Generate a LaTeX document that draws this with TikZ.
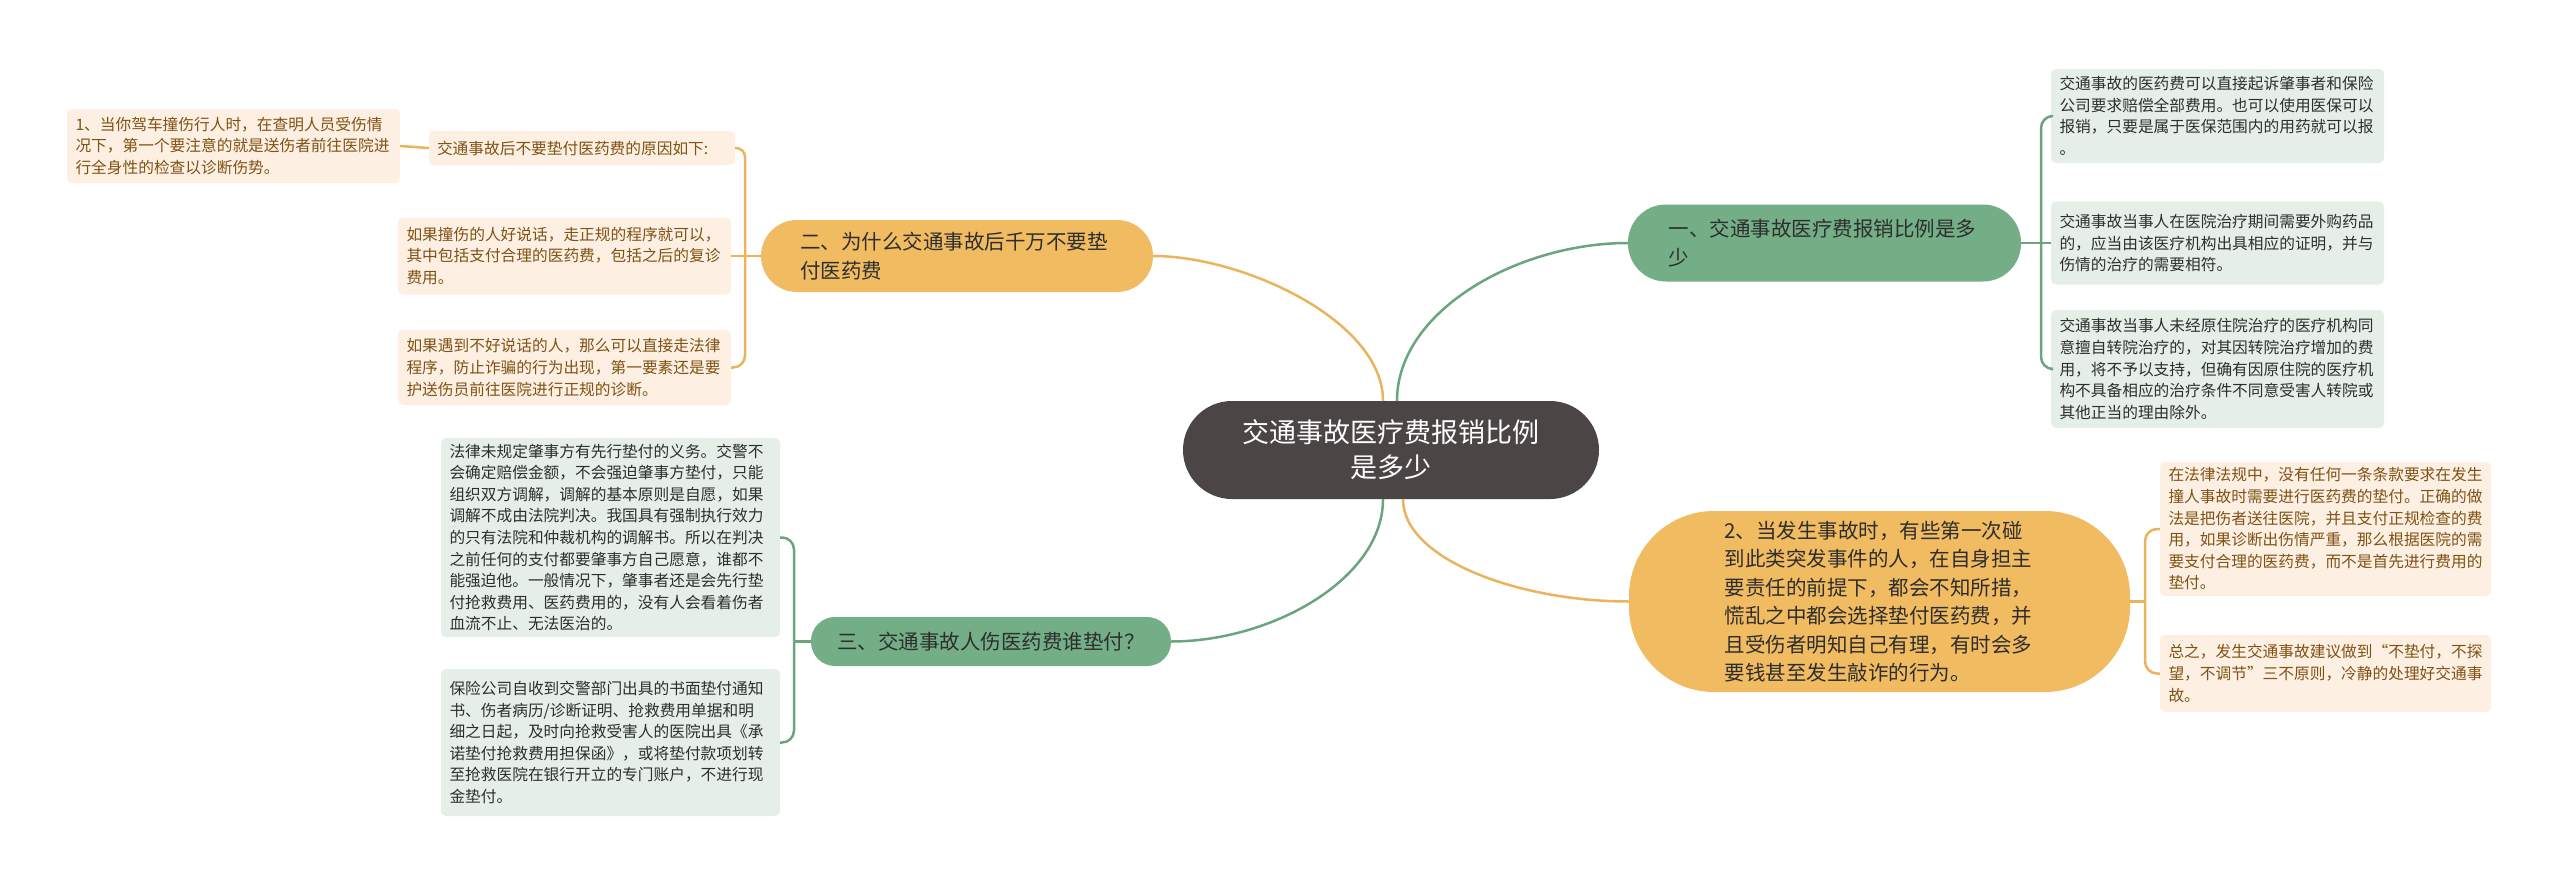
\documentclass[tikz,border=0pt]{standalone}
\usepackage{fontspec}
\setmainfont{Noto Sans CJK SC}
\usetikzlibrary{calc}
\definecolor{rootc}{HTML}{4B4545}
\definecolor{gpillc}{HTML}{73AE87}
\definecolor{glinec}{HTML}{6BA57E}
\definecolor{gboxc}{HTML}{E5EFE7}
\definecolor{opillc}{HTML}{F1BB62}
\definecolor{olinec}{HTML}{EAB45E}
\definecolor{oboxc}{HTML}{FDF0E2}
\definecolor{otext}{HTML}{7F5215}
\definecolor{dtext}{HTML}{2E2E2E}
\tikzset{
  root/.style={fill=rootc, text=white, rounded corners=49pt, minimum width=416pt, minimum height=98pt, align=center, inner sep=0pt, font=\fontsize{27}{35}\selectfont},
  pill/.style={text=dtext, align=left, inner sep=0pt, font=\fontsize{20.5}{28.5}\selectfont},
  gpill/.style={pill, fill=gpillc},
  opill/.style={pill, fill=opillc},
  sbox/.style={rounded corners=5pt, align=left, inner xsep=8.5pt, inner ysep=0pt, font=\fontsize{15.7}{21.6}\selectfont},
  gbox/.style={sbox, fill=gboxc, text=dtext, text width=316pt},
  obox/.style={sbox, fill=oboxc, text=otext, text width=316pt},
  gline/.style={draw=glinec, line width=2.5pt},
  oline/.style={draw=olinec, line width=2.5pt},
}
\begin{document}
\begin{tikzpicture}[x=1pt,y=-1pt]
\useasboundingbox (0,0) rectangle (2560,881);
\fill[white] (0,0) rectangle (2560,881);

% root
\node[root] (root) at (1391,450) {交通事故医疗费报销比例\\是多少};

% branches
\node[gpill, minimum width=393pt, minimum height=77pt, text width=312pt, rounded corners=38pt] (b1) at (1824.5,243) {一、交通事故医疗费报销比例是多\\少};
\node[opill, minimum width=392pt, minimum height=72pt, text width=314pt, rounded corners=36pt] (b2) at (957,256) {二、为什么交通事故后千万不要垫\\付医药费};
\node[gpill, minimum width=360pt, minimum height=49pt, rounded corners=24pt, align=center] (b3) at (991,641.5) {三、交通事故人伤医药费谁垫付？};
\node[opill, minimum width=501pt, minimum height=181pt, text width=310pt, rounded corners=85pt] (b4) at (1879.5,601.5) {2、当发生事故时，有些第一次碰\\到此类突发事件的人，在自身担主\\要责任的前提下，都会不知所措，\\慌乱之中都会选择垫付医药费，并\\且受伤者明知自己有理，有时会多\\要钱甚至发生敲诈的行为。};

% branch 1 children
\node[gbox, minimum height=94pt] (c1a) at (2217.5,116) {交通事故的医药费可以直接起诉肇事者和保险\\公司要求赔偿全部费用。也可以使用医保可以\\报销，只要是属于医保范围内的用药就可以报\\。};
\node[gbox, minimum height=83pt] (c1b) at (2217.5,243) {交通事故当事人在医院治疗期间需要外购药品\\的，应当由该医疗机构出具相应的证明，并与\\伤情的治疗的需要相符。};
\node[gbox, minimum height=118pt] (c1c) at (2217.5,369) {交通事故当事人未经原住院治疗的医疗机构同\\意擅自转院治疗的，对其因转院治疗增加的费\\用，将不予以支持，但确有因原住院的医疗机\\构不具备相应的治疗条件不同意受害人转院或\\其他正当的理由除外。};

% branch 2 children
\node[obox, text width=290pt, inner xsep=8pt, minimum height=34pt] (c2a) at (582,148) {交通事故后不要垫付医药费的原因如下:};
\node[obox, minimum height=74pt] (c2d) at (233.5,146) {1、当你驾车撞伤行人时，在查明人员受伤情\\况下，第一个要注意的就是送伤者前往医院进\\行全身性的检查以诊断伤势。};
\node[obox, minimum height=77pt] (c2b) at (564.5,256) {如果撞伤的人好说话，走正规的程序就可以，\\其中包括支付合理的医药费，包括之后的复诊\\费用。};
\node[obox, minimum height=75pt] (c2c) at (564.5,367.5) {如果遇到不好说话的人，那么可以直接走法律\\程序，防止诈骗的行为出现，第一要素还是要\\护送伤员前往医院进行正规的诊断。};

% branch 3 children
\node[gbox, text width=322pt, minimum height=199pt] (c3a) at (610.5,537.5) {法律未规定肇事方有先行垫付的义务。交警不\\会确定赔偿金额，不会强迫肇事方垫付，只能\\组织双方调解，调解的基本原则是自愿，如果\\调解不成由法院判决。我国具有强制执行效力\\的只有法院和仲裁机构的调解书。所以在判决\\之前任何的支付都要肇事方自己愿意，谁都不\\能强迫他。一般情况下，肇事者还是会先行垫\\付抢救费用、医药费用的，没有人会看着伤者\\血流不止、无法医治的。};
\node[gbox, text width=322pt, minimum height=147pt] (c3b) at (610.5,742.5) {保险公司自收到交警部门出具的书面垫付通知\\书、伤者病历/诊断证明、抢救费用单据和明\\细之日起，及时向抢救受害人的医院出具《承\\诺垫付抢救费用担保函》，或将垫付款项划转\\至抢救医院在银行开立的专门账户，不进行现\\金垫付。};

% branch 4 children
\node[obox, text width=314pt, minimum height=134pt] (c4a) at (2325.5,529) {在法律法规中，没有任何一条条款要求在发生\\撞人事故时需要进行医药费的垫付。正确的做\\法是把伤者送往医院，并且支付正规检查的费\\用，如果诊断出伤情严重，那么根据医院的需\\要支付合理的医药费，而不是首先进行费用的\\垫付。};
\node[obox, text width=314pt, minimum height=77pt] (c4b) at (2325.5,673.5) {总之，发生交通事故建议做到“不垫付，不探\\望，不调节”三不原则，冷静的处理好交通事\\故。};

% root connectors
\draw[gline] ([xshift=6pt]root.north) .. controls +(0,-90) and +(-110,0) .. (b1.west);
\draw[oline] ([xshift=-8pt]root.north) .. controls +(0,-80) and +(90,0) .. (b2.east);
\draw[gline] ([xshift=-8pt]root.south) .. controls +(0,80) and +(100,0) .. (b3.east);
\draw[oline] ([xshift=12pt]root.south) .. controls +(0,60) and +(-110,0) .. (b4.west);

% spines
\coordinate (s1) at (2041,243);
\draw[gline] (b1.east) -- (s1) -- (c1b.west);
\draw[gline, rounded corners=12pt] (s1) |- (c1a.west);
\draw[gline, rounded corners=12pt] (s1) |- (c1c.west);

\coordinate (s2) at (745,256);
\draw[oline] (b2.west) -- (s2) -- (c2b.east);
\draw[oline, rounded corners=9pt] (s2) |- (c2a.east);
\draw[oline, rounded corners=12pt] (s2) |- (c2c.east);
\draw[oline] (c2a.west) -- (c2d.east);

\coordinate (s3) at (794,641.5);
\draw[gline] (b3.west) -- (s3);
\draw[gline, rounded corners=12pt] (s3) |- (c3a.east);
\draw[gline, rounded corners=12pt] (s3) |- (c3b.east);

\coordinate (s4) at (2145,601.5);
\draw[oline] (b4.east) -- (s4);
\draw[oline, rounded corners=12pt] (s4) |- (c4a.west);
\draw[oline, rounded corners=12pt] (s4) |- (c4b.west);
\end{tikzpicture}
\end{document}
